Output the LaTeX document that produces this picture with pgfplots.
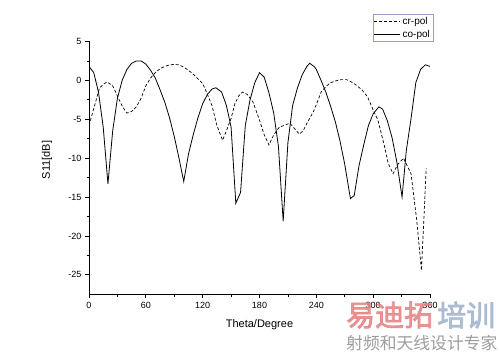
\documentclass[border=0pt]{standalone}
\usepackage{fontspec}
\setmainfont{Liberation Sans}
\newfontfamily\cjkb[FakeBold=2.5]{Noto Sans CJK SC}
\newfontfamily\cjkn{Noto Sans CJK SC}
\usepackage{pgfplots}
\pgfplotsset{compat=1.18}
\begin{document}
\begin{tikzpicture}
\useasboundingbox (0,0) rectangle (500pt,353pt);
\begin{axis}[
 at={(89pt,58.7pt)}, anchor=south west,
 scale only axis, width=341pt, height=252.8pt,
 xmin=0, xmax=360, ymin=-27.5, ymax=5,
 axis x line*=bottom, axis y line*=left,
 axis line style={-, line width=0.9pt},
 xtick={0,60,...,360}, ytick={-25,-20,...,5},
 minor x tick num=1, minor y tick num=1,
 tick align=outside, major tick length=4pt, minor tick length=2.5pt,
 tick style={black, line width=0.8pt},
 /pgf/number format/assume math mode=true,
 ticklabel style={font=\fontsize{9}{10}\selectfont},
 xlabel={Theta/Degree}, ylabel={S11[dB]},
 label style={font=\fontsize{11}{13}\selectfont},
 x label style={at={(axis description cs:0.5,-0.121)}, anchor=center},
 y label style={at={(axis description cs:-0.123,0.531)}, anchor=center},
 legend style={at={(axis description cs:1.009,1.109)}, anchor=north east,
   draw={rgb,255:red,150;green,160;blue,200}, font=\fontsize{10}{12}\selectfont,
   inner sep=1pt, row sep=0pt, cells={anchor=west}},
 legend image code/.code={\draw[#1] (0pt,0pt) -- (26pt,0pt);},
]
\addplot[black, line width=0.7pt, dash pattern=on 3pt off 2pt] coordinates {
(0,-5.8) (6,-3.2) (11,-1.0) (15,-0.5) (19,-0.2) (25,-0.7) (30,-2.0) (35,-3.3)
(40,-4.2) (45,-4.0) (50,-3.4) (55,-2.3) (60,-0.7) (65,0.3) (70,1.0) (75,1.5)
(80,1.8) (85,2.0) (90,2.05) (95,2.0) (100,1.7) (105,1.3) (110,0.8) (115,0.2)
(120,-0.4) (124,-1.5) (130,-3.3) (135,-5.8) (141,-7.7) (145,-6.5) (150,-4.9)
(154,-3.0) (158,-2.0) (162,-1.5) (167,-1.8) (173,-2.75) (180,-5.1) (185,-7.0)
(190,-8.3) (195,-7.0) (201,-6.0) (206,-5.8) (212,-5.5) (217,-6.2) (222,-6.9)
(226,-6.5) (231,-5.3) (237,-4.0) (242,-2.5) (245,-1.5) (250,-0.8) (255,-0.3)
(261,-0.05) (266,0.1) (272,0.1) (277,-0.2) (282,-0.6) (288,-1.2) (294,-2.1)
(300,-3.8) (305,-5.1) (312,-8.5) (316,-10.7) (321,-12.0) (326,-10.8) (332,-10.0)
(340,-12.0) (346,-18.0) (351,-24.4) (356,-11.3)
};
\addlegendentry{cr-pol}
\addplot[black, line width=0.8pt] coordinates {
(0,1.8) (5,1.0) (10,-1.5) (15,-6.0) (20,-13.3) (25,-6.5) (30,-2.3) (35,0.0)
(40,1.4) (45,2.2) (50,2.5) (55,2.5) (60,2.1) (65,1.3) (70,0.3) (75,-1.2)
(80,-2.8) (85,-4.8) (90,-7.2) (95,-10.0) (100,-13.0) (105,-9.5) (110,-7.0)
(115,-4.8) (120,-3.0) (125,-1.8) (130,-1.1) (134,-0.95) (140,-1.5) (145,-3.2)
(150,-6.0) (155,-15.8) (160,-14.4) (165,-5.8) (170,-2.5) (175,-0.3) (180,1.0)
(185,0.4) (190,-1.6) (195,-4.2) (200,-8.5) (205,-18.1) (210,-8.0) (215,-3.2)
(220,-1.0) (225,0.7) (230,1.8) (233,2.2) (238,1.75) (240,1.4) (245,0.0)
(250,-1.5) (255,-3.3) (260,-5.3) (265,-7.8) (270,-10.8) (276,-15.2) (280,-14.8)
(285,-11.0) (290,-8.3) (295,-5.8) (300,-4.3) (306,-3.4) (310,-3.7) (315,-5.2)
(320,-7.4) (325,-10.5) (330.5,-15.0) (335,-9.0) (340,-4.9) (345,-0.3) (350,1.4)
(355,2.0) (360,1.8)
};
\addlegendentry{co-pol}
\end{axis}
\node[anchor=west, inner sep=0, text={rgb,255:red,228;green,130;blue,130}, opacity=0.85,
  font=\cjkb\fontsize{29}{29}\selectfont] at (346pt,38pt) {易迪拓};
\node[anchor=west, inner sep=0, text={rgb,255:red,160;green,180;blue,205}, opacity=0.85,
  font=\cjkb\fontsize{29}{29}\selectfont] at (437pt,38pt) {培训};
\node[anchor=west, inner sep=0, text={rgb,255:red,140;green,140;blue,140}, opacity=0.85,
  font=\cjkn\fontsize{16.8}{17}\selectfont] at (346pt,9.5pt) {射频和天线设计专家};
\end{tikzpicture}
\end{document}
